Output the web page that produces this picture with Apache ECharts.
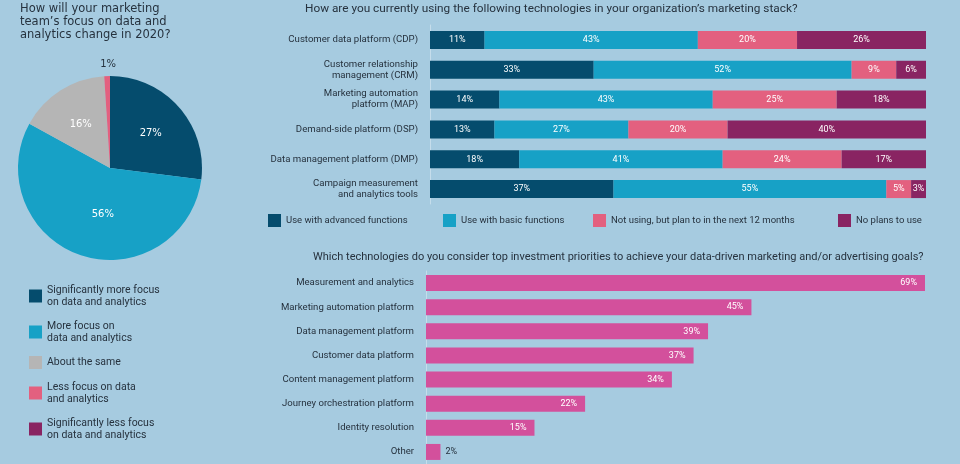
<!DOCTYPE html>
<html>
<head>
<meta charset="utf-8">
<script src="https://cdn.jsdelivr.net/npm/echarts@6/dist/echarts.min.js"></script>
<style>
html,body{margin:0;padding:0;background:#a6cbe0;}
#c{width:960px;height:464px;}
</style>
</head>
<body>
<div id="c"></div>
<script>
// ---- Data ----
const pieNames = ['Significantly more focus\non data and analytics', 'More focus on\ndata and analytics', 'About the same', 'Less focus on data\nand analytics', 'Significantly less focus\non data and analytics'];
const pieValues = [27, 56, 16, 1, 0];

const stackCategories = ['Customer data platform (CDP)', 'Customer relationship\nmanagement (CRM)', 'Marketing automation\nplatform (MAP)', 'Demand-side platform (DSP)', 'Data management platform (DMP)', 'Campaign measurement\nand analytics tools'];
const stackSeriesNames = ['Use with advanced functions', 'Use with basic functions', 'Not using, but plan to in the next 12 months', 'No plans to use'];
const advanced = [11, 33, 14, 13, 18, 37];
const basic = [43, 52, 43, 27, 41, 55];
const planTo = [20, 9, 25, 20, 24, 5];
const noPlans = [26, 6, 18, 40, 17, 3];

const prioCategories = ['Measurement and analytics', 'Marketing automation platform', 'Data management platform', 'Customer data platform', 'Content management platform', 'Journey orchestration platform', 'Identity resolution', 'Other'];
const prioValues = [69, 45, 39, 37, 34, 22, 15, 2];

// ---- Styles ----
const NAVY = '#054c6d', TEAL = '#17a1c6', GRAY = '#b5b5b5', PINK = '#e3607f', PLUM = '#892462', MAGENTA = '#d3509c';
const TXT = '#26323e';
const FONT = 'Roboto, sans-serif';
const stackColors = [NAVY, TEAL, PINK, PLUM];
const stackData = [advanced, basic, planTo, noPlans];
const legendLefts = [263, 438, 588, 833];
const pieLabelNudge = [[4, -2], [8, 0], [-3, -2], [14, -9], [0, 0]];

const chart = echarts.init(document.getElementById('c'), null, {renderer: 'canvas'});

const pieData = pieNames.map((n, i) => {
  const d = {name: n, value: pieValues[i], itemStyle: {color: [NAVY, TEAL, GRAY, PINK, PLUM][i]}};
  if (pieValues[i] === 0) d.label = {show: false};
  if (i === 3) d.label = {position: 'outside', color: TXT, distance: 4};
  return d;
});

const series = [{
  type: 'pie',
  center: [110, 168],
  radius: 92,
  startAngle: 90,
  clockwise: true,
  data: pieData,
  label: {
    position: 'inside',
    formatter: '{c}%',
    color: '#ffffff',
    fontFamily: 'DejaVu Sans, sans-serif',
    fontSize: 10
  },
  labelLine: {show: false, length: 3, length2: 0},
  labelLayout: function (p) {
    const n = pieLabelNudge[p.dataIndex] || [0, 0];
    return {dx: n[0], dy: n[1]};
  },
  silent: true,
  animation: false
}];

stackSeriesNames.forEach((name, i) => {
  series.push({
    type: 'bar',
    name: name,
    stack: 'usage',
    xAxisIndex: 0,
    yAxisIndex: 0,
    barWidth: 18,
    data: stackData[i],
    itemStyle: {color: stackColors[i]},
    label: {show: true, position: 'inside', formatter: '{c}%', color: '#ffffff', fontFamily: FONT, fontSize: 9},
    animation: false
  });
});

series.push({
  type: 'bar',
  name: 'priorities',
  xAxisIndex: 1,
  yAxisIndex: 1,
  barWidth: 16,
  data: prioValues.map((v, i) => {
    const d = {value: v};
    if (v < 5) d.label = {position: 'right', color: TXT, distance: 5};
    return d;
  }),
  itemStyle: {color: MAGENTA},
  label: {show: true, position: 'insideRight', distance: 8, formatter: '{c}%', color: '#ffffff', fontFamily: FONT, fontSize: 9},
  animation: false
});

const legends = [{
  orient: 'vertical',
  left: 24,
  top: 279,
  itemWidth: 13,
  itemHeight: 13,
  itemGap: 12,
  icon: 'rect',
  data: pieNames,
  selectedMode: false,
  textStyle: {color: TXT, fontFamily: FONT, fontSize: 10.5, lineHeight: 12}
}];
stackSeriesNames.forEach((n, i) => {
  legends.push({
    left: legendLefts[i],
    top: 209,
    itemWidth: 13,
    itemHeight: 13,
    icon: 'rect',
    data: [n],
    selectedMode: false,
    textStyle: {color: TXT, fontFamily: FONT, fontSize: 9.5}
  });
});

const option = {
  backgroundColor: '#a6cbe0',
  animation: false,
  title: [
    {text: 'How will your marketing\nteam\u2019s focus on data and\nanalytics change in 2020?', left: 15, top: -2,
     textStyle: {color: TXT, fontFamily: 'DejaVu Sans, sans-serif', fontSize: 11.5, fontWeight: 'normal', lineHeight: 13}},
    {text: 'How are you currently using the following technologies in your organization\u2019s marketing stack?', left: 300, top: -2,
     textStyle: {color: TXT, fontFamily: FONT, fontSize: 11.8, fontWeight: 'normal'}},
    {text: 'Which technologies do you consider top investment priorities to achieve your data-driven marketing and/or advertising goals?', left: 308, top: 247,
     textStyle: {color: TXT, fontFamily: FONT, fontSize: 11, fontWeight: 'normal'}}
  ],
  legend: legends,
  grid: [
    {left: 430, right: 34, top: 25, height: 179},
    {left: 426, right: 35, top: 271, height: 195}
  ],
  xAxis: [
    {type: 'value', gridIndex: 0, min: 0, max: 100, show: false},
    {type: 'value', gridIndex: 1, min: 0, max: 69, show: false}
  ],
  yAxis: [
    {type: 'category', gridIndex: 0, data: stackCategories, inverse: true,
     axisTick: {show: false},
     axisLine: {show: true, lineStyle: {color: 'rgba(255,255,255,0.35)', width: 1}},
     axisLabel: {color: TXT, fontFamily: FONT, fontSize: 9.6, margin: 12, lineHeight: 11, align: 'right'}},
    {type: 'category', gridIndex: 1, data: prioCategories, inverse: true,
     axisTick: {show: false},
     axisLine: {show: true, lineStyle: {color: 'rgba(255,255,255,0.35)', width: 1}},
     axisLabel: {color: TXT, fontFamily: FONT, fontSize: 9.6, margin: 12}}
  ],
  series: series
};
chart.setOption(option);
</script>
</body>
</html>
